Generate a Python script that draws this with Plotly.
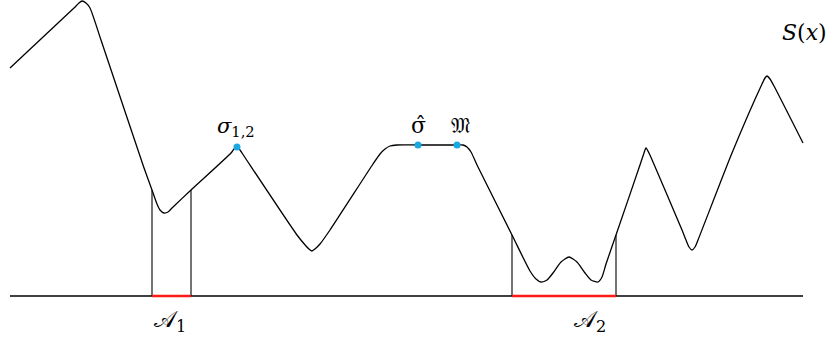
import plotly.graph_objects as go

# curve S(x) in pixel units (y grows downward)
curve_x = [10, 74, 79, 82, 86, 90, 101, 143, 152, 157, 160, 164, 168, 172, 191, 231, 234, 237, 240, 244,
           297, 306, 309, 312, 315, 320, 330, 373, 380, 385, 390, 397, 418, 457, 463, 467, 471, 478, 512,
           530, 536, 541, 547, 553, 561, 569, 577, 585, 591, 598, 602, 606, 616, 641, 644, 646, 649, 653,
           682, 686, 689, 692, 695, 698, 732, 762, 765, 767, 770, 774, 803]
curve_y = [68, 8, 3, 1, 3, 8, 40, 165, 190, 204, 210, 213, 212, 208, 190, 153, 149, 147, 150, 156,
           235, 246, 249, 251, 249, 244, 230, 164, 154, 149, 146, 145, 145, 145, 145, 147, 152, 167, 235,
           271, 279, 282, 280, 273, 262, 257, 262, 273, 280, 282, 277, 264, 235, 162, 153, 148, 153, 162,
           230, 240, 247, 250, 247, 240, 153, 84, 78, 76, 79, 86, 143]

base_y = 296
base_x = [10, 803]

# intervals A1, A2 and the curve height at their ends
a_left = [152, 512]
a_right = [191, 616]
a_left_top = [190, 235]
a_right_top = [190, 235]
a_names = ["𝒜<sub>1</sub>", "𝒜<sub>2</sub>"]
a_label_x = [170, 590]

# marked points
dot_x = [237, 418, 457]
dot_y = [147, 145, 145]
dot_labels = ["<i>σ</i><sub>1,2</sub>", "σ̂", "𝔐"]
dot_label_x = [236, 418, 460]
dot_sizes = [21, 22, 21]

fig = go.Figure()

fig.add_trace(go.Scatter(x=base_x, y=[base_y, base_y], mode="lines",
                         line=dict(color="black", width=1.3), hoverinfo="skip"))

for l, r, lt, rt in zip(a_left, a_right, a_left_top, a_right_top):
    fig.add_trace(go.Scatter(x=[l, l], y=[base_y, lt], mode="lines",
                             line=dict(color="black", width=1.1), hoverinfo="skip"))
    fig.add_trace(go.Scatter(x=[r, r], y=[base_y, rt], mode="lines",
                             line=dict(color="black", width=1.1), hoverinfo="skip"))
    fig.add_trace(go.Scatter(x=[l, r], y=[base_y, base_y], mode="lines",
                             line=dict(color="#ff1a1a", width=2.6), hoverinfo="skip"))

fig.add_trace(go.Scatter(x=curve_x, y=curve_y, mode="lines",
                         line=dict(color="black", width=1.3, shape="spline", smoothing=0.6),
                         hoverinfo="skip"))

fig.add_trace(go.Scatter(x=dot_x, y=dot_y, mode="markers",
                         marker=dict(color="#18a8e2", size=7), hoverinfo="skip"))

serif = "DejaVu Serif, Liberation Serif, serif"

for x, t, y, sz in zip(dot_label_x, dot_labels, dot_y, dot_sizes):
    fig.add_annotation(x=x, y=y - 5, text=t, showarrow=False, yanchor="bottom",
                       font=dict(family=serif, size=sz, color="black"))

for x, t in zip(a_label_x, a_names):
    fig.add_annotation(x=x, y=base_y + 8, text=t, showarrow=False, yanchor="top",
                       font=dict(family=serif, size=23, color="black"))

fig.add_annotation(x=804, y=32, text="<i>S</i>(<i>x</i>)", showarrow=False,
                   font=dict(family=serif, size=22, color="black"))

fig.update_layout(
    width=832, height=339,
    margin=dict(l=0, r=0, t=0, b=0),
    paper_bgcolor="white", plot_bgcolor="white",
    showlegend=False,
    xaxis=dict(range=[0, 832], visible=False, fixedrange=True),
    yaxis=dict(range=[339, 0], visible=False, fixedrange=True),
)

# drop the browser's default body margin so the figure sits at the page corner
fig.write_html("out.html", config={"displayModeBar": False},
               post_script="document.body.style.margin = '0';")
